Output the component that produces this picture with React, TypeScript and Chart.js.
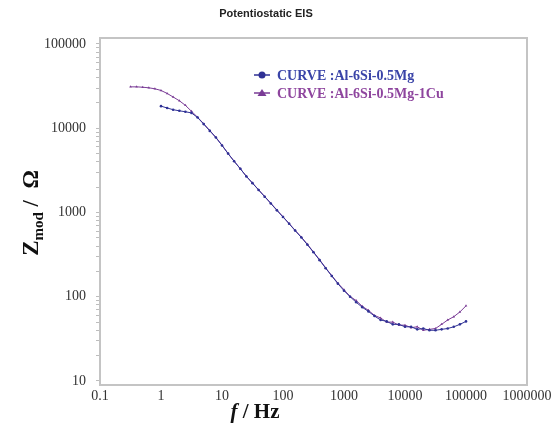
import React, { useEffect, useRef } from 'react';
import { Chart, registerables } from 'chart.js';

Chart.register(...registerables);

const chartTitle = 'Potentiostatic EIS';
const seriesNames = ['CURVE :Al-6Si-0.5Mg', 'CURVE :Al-6Si-0.5Mg-1Cu'];
const seriesColors = ['#2f3195', '#7a3c96'];
const legendTextColors = ['#3a44a8', '#8e459e'];

// Al-6Si-0.5Mg-1Cu (purple)
const freqCu = [0.316, 0.398, 0.501, 0.631, 0.794, 1, 1.26, 1.58, 2, 2.51, 3.16, 3.98, 5.01, 6.31, 7.94, 10, 12.6, 15.8, 20, 25.1, 31.6, 39.8, 50.1, 63.1, 79.4, 100, 126, 158, 200, 251, 316, 398, 501, 631, 794, 1000, 1259, 1585, 1995, 2512, 3162, 3981, 5012, 6310, 7943, 10000, 12589, 15849, 19953, 25119, 31623, 39811, 50119, 63096, 79433, 100000];
const zCu = [31000, 31000, 30700, 30200, 29400, 28100, 25900, 23500, 21200, 18700, 15900, 13500, 11300, 9400, 7800, 6300, 5000, 4070, 3300, 2690, 2240, 1860, 1550, 1290, 1070, 890, 740, 615, 510, 420, 340, 275, 220, 178, 145, 121, 101, 90, 77, 69, 60, 56, 50, 50, 46, 46, 43, 44, 40, 41, 42, 47, 53, 58, 66, 78];

// Al-6Si-0.5Mg (blue)
const freqMg = [1, 1.26, 1.58, 2, 2.51, 3.16, 3.98, 5.01, 6.31, 7.94, 10, 12.6, 15.8, 20, 25.1, 31.6, 39.8, 50.1, 63.1, 79.4, 100, 126, 158, 200, 251, 316, 398, 501, 631, 794, 1000, 1259, 1585, 1995, 2512, 3162, 3981, 5012, 6310, 7943, 10000, 12589, 15849, 19953, 25119, 31623, 39811, 50119, 63096, 79433, 100000];
const zMg = [18300, 17400, 16600, 16100, 15700, 15200, 13400, 11200, 9300, 7750, 6250, 5000, 4050, 3300, 2680, 2230, 1850, 1540, 1280, 1060, 885, 735, 610, 505, 415, 337, 272, 218, 176, 143, 118, 100, 86, 75, 67, 59, 53, 51, 47, 47, 44, 44, 41, 42, 40, 40, 41, 42, 44, 47, 51];

const xTickValues = [0.1, 1, 10, 100, 1000, 10000, 100000, 1000000];
const xTickLabels = ['0.1', '1', '10', '100', '1000', '10000', '100000', '1000000'];
const yTickValues = [10, 100, 1000, 10000, 100000];
const yTickLabels = ['10', '100', '1000', '10000', '100000'];

const sameLog = (a: number, b: number) => Math.abs(Math.log10(a) - Math.log10(b)) < 1e-6;

const labelFor = (value: number, values: number[], labels: string[]) => {
  const i = values.findIndex((v) => sameLog(v, value));
  return i >= 0 ? labels[i] : '';
};

const yAllTicks = (() => {
  const out: { value: number }[] = [];
  for (let e = 1; e < 5; e++) {
    for (let k = 1; k < 10; k++) out.push({ value: k * Math.pow(10, e) });
  }
  out.push({ value: 100000 });
  return out;
})();

const decor = {
  id: 'decor',
  beforeDatasetsDraw(chart: any) {
    const { ctx, chartArea } = chart;
    const { left, top, right, bottom } = chartArea;
    ctx.save();
    ctx.strokeStyle = '#c4c4c4';
    ctx.lineWidth = 2;
    ctx.strokeRect(left, top, right - left, bottom - top);
    ctx.restore();
  },
  afterDraw(chart: any) {
    const { ctx } = chart;
    ctx.save();
    // title
    ctx.fillStyle = '#222';
    ctx.font = 'bold 11px "Liberation Sans", Arial, sans-serif';
    ctx.textAlign = 'center';
    ctx.textBaseline = 'middle';
    ctx.fillText(chartTitle, 266, 14);

    // x axis title: f / Hz
    const fFont = 'italic bold 21px "Liberation Serif", serif';
    const hzFont = 'bold 21px "Liberation Serif", serif';
    ctx.font = fFont;
    const wf = ctx.measureText('f').width;
    ctx.font = hzFont;
    const wr = ctx.measureText(' / Hz').width;
    const x0 = 255 - (wf + wr) / 2;
    ctx.textAlign = 'left';
    ctx.textBaseline = 'alphabetic';
    ctx.fillStyle = '#111';
    ctx.font = fFont;
    ctx.fillText('f', x0, 418);
    ctx.font = hzFont;
    ctx.fillText(' / Hz', x0 + wf, 418);

    // y axis title: Z_mod / Ω
    ctx.translate(38, 213);
    ctx.rotate(-Math.PI / 2);
    const zFont = 'bold 23px "Liberation Serif", serif';
    const subFont = 'bold 15px "Liberation Serif", serif';
    ctx.font = zFont;
    const wZ = ctx.measureText('Z').width;
    const wRest = ctx.measureText(' /  Ω').width;
    ctx.font = subFont;
    const wSub = ctx.measureText('mod').width;
    const total = wZ + wSub + wRest;
    let cx = -total / 2;
    ctx.font = zFont;
    ctx.fillText('Z', cx, 0);
    cx += wZ;
    ctx.font = subFont;
    ctx.fillText('mod', cx, 5);
    cx += wSub;
    ctx.font = zFont;
    ctx.fillText(' /  Ω', cx, 0);
    ctx.restore();

    // legend
    ctx.save();
    const rows = [75, 93];
    rows.forEach((y, i) => {
      ctx.strokeStyle = seriesColors[i];
      ctx.fillStyle = seriesColors[i];
      ctx.lineWidth = 1.5;
      ctx.beginPath();
      ctx.moveTo(254, y);
      ctx.lineTo(270, y);
      ctx.stroke();
      ctx.beginPath();
      if (i === 0) {
        ctx.arc(262, y, 3.5, 0, Math.PI * 2);
      } else {
        ctx.moveTo(262, y - 4);
        ctx.lineTo(266.5, y + 3);
        ctx.lineTo(257.5, y + 3);
        ctx.closePath();
      }
      ctx.fill();
      ctx.fillStyle = legendTextColors[i];
      ctx.font = 'bold 14px "Liberation Serif", serif';
      ctx.textAlign = 'left';
      ctx.textBaseline = 'middle';
      ctx.fillText(seriesNames[i], 277, y + 1);
    });
    ctx.restore();
  },
};

export default function App() {
  const ref = useRef<HTMLCanvasElement | null>(null);

  useEffect(() => {
    const canvas = ref.current;
    if (!canvas) return;
    const tickFont = { family: '"Liberation Serif", "Times New Roman", serif', size: 14 };
    const chart = new Chart(canvas, {
      type: 'scatter',
      data: {
        datasets: [
          {
            label: seriesNames[0],
            data: freqMg.map((f, i) => ({ x: f, y: zMg[i] })),
            showLine: true,
            borderColor: seriesColors[0],
            backgroundColor: seriesColors[0],
            borderWidth: 1,
            pointRadius: 1.3,
            pointStyle: 'circle',
            pointBorderWidth: 0,
          },
          {
            label: seriesNames[1],
            data: freqCu.map((f, i) => ({ x: f, y: zCu[i] })),
            showLine: true,
            borderColor: seriesColors[1],
            backgroundColor: seriesColors[1],
            borderWidth: 1,
            pointRadius: 1.5,
            pointStyle: 'triangle',
            pointBorderWidth: 0,
          },
        ],
      },
      options: {
        responsive: false,
        animation: false,
        events: [],
        layout: { padding: { top: 38, right: 28, left: 0, bottom: 0 } },
        plugins: {
          legend: { display: false },
          title: { display: false },
          tooltip: { enabled: false },
        },
        scales: {
          x: {
            type: 'logarithmic',
            min: 0.1,
            max: 1000000,
            afterBuildTicks: (s: any) => {
              s.ticks = xTickValues.map((v) => ({ value: v }));
            },
            afterFit: (s: any) => {
              s.height = 45;
            },
            grid: { display: false },
            border: { display: false },
            ticks: {
              autoSkip: false,
              maxRotation: 0,
              minRotation: 0,
              padding: -5,
              color: '#333',
              font: tickFont,
              callback: (v: any) => labelFor(Number(v), xTickValues, xTickLabels),
            },
          },
          y: {
            type: 'logarithmic',
            min: 8.964,
            max: 117800,
            afterBuildTicks: (s: any) => {
              s.ticks = yAllTicks.map((t) => ({ value: t.value }));
            },
            afterFit: (s: any) => {
              s.width = 100;
            },
            grid: {
              display: true,
              drawOnChartArea: false,
              drawTicks: true,
              tickLength: 4,
              color: '#bdbdbd',
              lineWidth: 1,
            },
            border: { display: false },
            ticks: {
              autoSkip: false,
              padding: 10,
              color: '#333',
              font: tickFont,
              callback: (v: any) => labelFor(Number(v), yTickValues, yTickLabels),
            },
          },
        },
      },
      plugins: [decor],
    } as any);
    return () => chart.destroy();
  }, []);

  return (
    <div style={{ position: 'fixed', left: 0, top: 0, width: 555, height: 430, background: '#fff' }}>
      <canvas ref={ref} width={555} height={430} style={{ width: 555, height: 430, display: 'block' }} />
    </div>
  );
}
